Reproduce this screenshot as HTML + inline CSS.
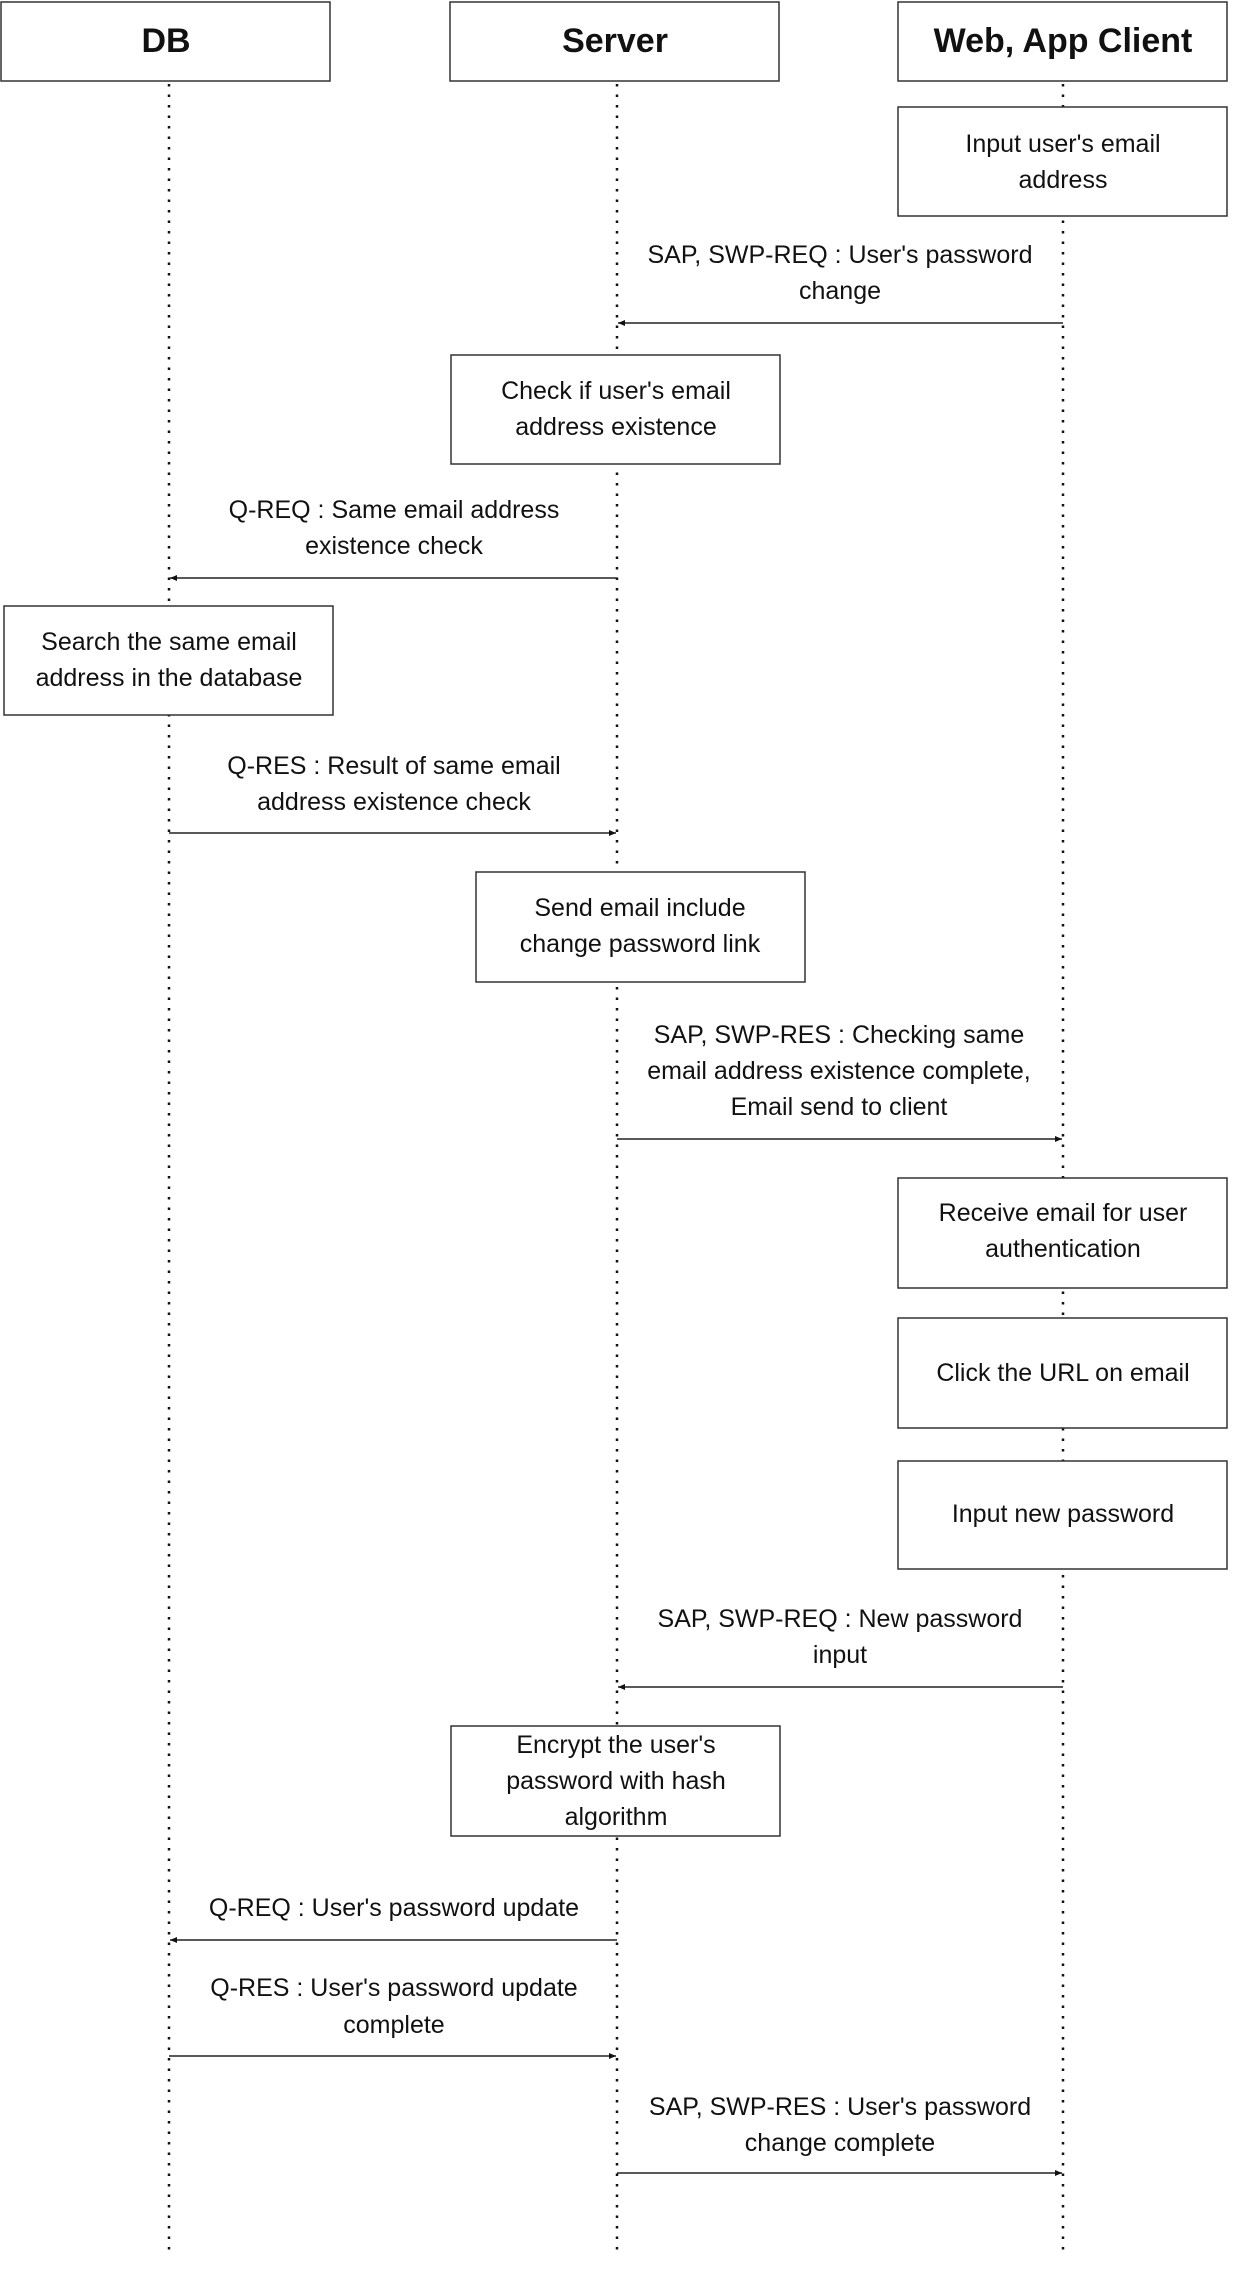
<!DOCTYPE html>
<html><head><meta charset="utf-8"><style>
html,body{margin:0;padding:0;background:#fff}
svg{display:block}
text{font-family:"Liberation Sans",sans-serif;font-size:25px;fill:#111;text-anchor:middle;dominant-baseline:central}
.h{font-size:34px;font-weight:bold}
</style></head><body>
<svg width="1233" height="2270" viewBox="0 0 1233 2270" xmlns="http://www.w3.org/2000/svg">
<defs><marker id="a" markerWidth="8" markerHeight="8" refX="7" refY="4" orient="auto" markerUnits="userSpaceOnUse"><path d="M0,1 L7,4 L0,7 z" fill="#111"/></marker></defs>
<g stroke="#111" stroke-width="2.5" stroke-dasharray="2.5 8" fill="none">
<line x1="169" y1="84" x2="169" y2="2255"/>
<line x1="617" y1="84" x2="617" y2="2255"/>
<line x1="1063" y1="84" x2="1063" y2="2255"/>
</g>
<g fill="#fff" stroke="#333" stroke-width="1.5">
<rect x="1" y="2" width="329" height="79"/>
<rect x="450" y="2" width="329" height="79"/>
<rect x="898" y="2" width="329" height="79"/>
<rect x="898" y="107" width="329" height="109"/>
<rect x="451" y="355" width="329" height="109"/>
<rect x="4" y="606" width="329" height="109"/>
<rect x="476" y="872" width="329" height="110"/>
<rect x="898" y="1178" width="329" height="110"/>
<rect x="898" y="1318" width="329" height="110"/>
<rect x="898" y="1461" width="329" height="108"/>
<rect x="451" y="1726" width="329" height="110"/>
</g>
<g stroke="#222" stroke-width="1.5" marker-end="url(#a)">
<line x1="1063" y1="323" x2="618" y2="323"/>
<line x1="617" y1="578" x2="170" y2="578"/>
<line x1="169" y1="833" x2="616" y2="833"/>
<line x1="617" y1="1139" x2="1062" y2="1139"/>
<line x1="1063" y1="1687" x2="618" y2="1687"/>
<line x1="617" y1="1940" x2="170" y2="1940"/>
<line x1="169" y1="2056" x2="616" y2="2056"/>
<line x1="617" y1="2173" x2="1062" y2="2173"/>
</g>
<text class="h" x="166" y="41">DB</text>
<text class="h" x="615" y="41">Server</text>
<text class="h" x="1063" y="41">Web, App Client</text>
<text x="1063" y="144">Input user's email</text>
<text x="1063" y="180">address</text>
<text x="840" y="255">SAP, SWP-REQ : User's password</text>
<text x="840" y="291">change</text>
<text x="616" y="391">Check if user's email</text>
<text x="616" y="427">address existence</text>
<text x="394" y="510">Q-REQ : Same email address</text>
<text x="394" y="546">existence check</text>
<text x="169" y="642">Search the same email</text>
<text x="169" y="678">address in the database</text>
<text x="394" y="766">Q-RES : Result of same email</text>
<text x="394" y="802">address existence check</text>
<text x="640" y="908">Send email include</text>
<text x="640" y="944">change password link</text>
<text x="839" y="1035">SAP, SWP-RES : Checking same</text>
<text x="839" y="1071">email address existence complete,</text>
<text x="839" y="1107">Email send to client</text>
<text x="1063" y="1213">Receive email for user</text>
<text x="1063" y="1249">authentication</text>
<text x="1063" y="1373">Click the URL on email</text>
<text x="1063" y="1514">Input new password</text>
<text x="840" y="1619">SAP, SWP-REQ : New password</text>
<text x="840" y="1655">input</text>
<text x="616" y="1745">Encrypt the user's</text>
<text x="616" y="1781">password with hash</text>
<text x="616" y="1817">algorithm</text>
<text x="394" y="1908">Q-REQ : User's password update</text>
<text x="394" y="1988">Q-RES : User's password update</text>
<text x="394" y="2025">complete</text>
<text x="840" y="2107">SAP, SWP-RES : User's password</text>
<text x="840" y="2143">change complete</text>
</svg>
</body></html>
